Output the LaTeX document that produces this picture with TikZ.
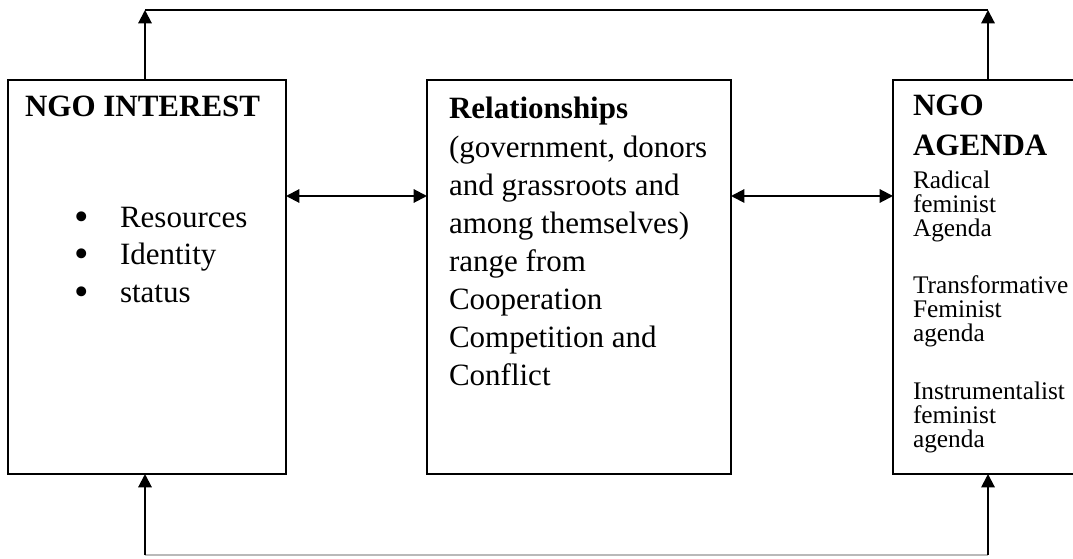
\documentclass[tikz,border=0pt]{standalone}
\usepackage{fontspec}
\setmainfont{Liberation Serif}
\usetikzlibrary{arrows.meta}

\newcommand{\bigdot}{\raisebox{-2.5pt}{\fontsize{31}{31}\selectfont\textbullet}}

\begin{document}
% === Layout constants ===
\def\bh{295.5pt}   % box height
\def\lw{208.5pt}   % interest box width
\def\mw{228pt}     % relations box width
\def\rw{147.75pt}  % agenda box width

\begin{tikzpicture}[
  x=0.75pt, y=-0.75pt,
  >={Triangle[length=10pt, width=10pt]},
  every node/.style={inner sep=0pt, outer sep=0pt},
  % --- box styles ---
  framebox/.style={draw, line width=1.8pt, minimum height=\bh},
  % text nodes sit on the baseline of their last line
  headtxt/.style={anchor=base west, align=left,
    font=\fontsize{23.25}{30}\selectfont\bfseries},
  bodytxt/.style={anchor=base west, align=left,
    font=\fontsize{23.25}{28.5}\selectfont},
  smalltxt/.style={anchor=base west, align=left,
    font=\fontsize{19}{18}\selectfont},
  arr/.style={->, line width=1.5pt},
  dbl/.style={<->, line width=1.5pt},
]
\clip (0,0) rectangle (1073,559);

% ---------- Boxes ----------
\node[framebox, minimum width=\lw] (interest) at (147,277) {};
\node[framebox, minimum width=\mw] (relations) at (579,277) {};
\node[framebox, minimum width=\rw] (agenda) at (991.5,277) {};

% ---------- Texts ----------
\node[headtxt] (interesthead) at (25,117) {NGO INTEREST};
\node[bodytxt, font=\fontsize{23.25}{28.1}\selectfont] (interestlist) at (74,302)
  {\makebox[34.5pt][l]{\bigdot}Resources\\
   \makebox[34.5pt][l]{\bigdot}Identity\\
   \makebox[34.5pt][l]{\bigdot}status};

\node[bodytxt] (relationtext) at (449,385)
  {\textbf{Relationships}\\(government, donors\\and grassroots and\\
   among themselves)\\range from\\Cooperation\\Competition and\\Conflict};

\node[headtxt] (agendahead) at (913,156) {NGO\\AGENDA};
\node[smalltxt] (agendalist) at (913,447)
  {Radical\\feminist\\Agenda\\[25pt]
   Transformative\\Feminist\\agenda\\[25pt]
   Instrumentalist\\feminist\\agenda};

% ---------- Links between boxes ----------
\coordinate (link) at (0,196);
\draw[dbl] (interest.east |- link) -- (relations.west |- link);
\draw[dbl] (relations.east |- link) -- (agenda.west |- link);

% ---------- Top loop ----------
\coordinate (tl) at (145,10);
\coordinate (tr) at (988,10);
\draw[line width=1.5pt] (tl) -- (tr);
\draw[arr] (interest.north -| tl) -- (tl);
\draw[arr] (agenda.north -| tr) -- (tr);

% ---------- Bottom loop ----------
\coordinate (bl) at (145,555);
\coordinate (br) at (988,555);
\draw[line width=1.5pt, gray!55] (bl) -- (br);
\draw[arr] (bl) -- (interest.south -| bl);
\draw[arr] (br) -- (agenda.south -| br);

\end{tikzpicture}
\end{document}
